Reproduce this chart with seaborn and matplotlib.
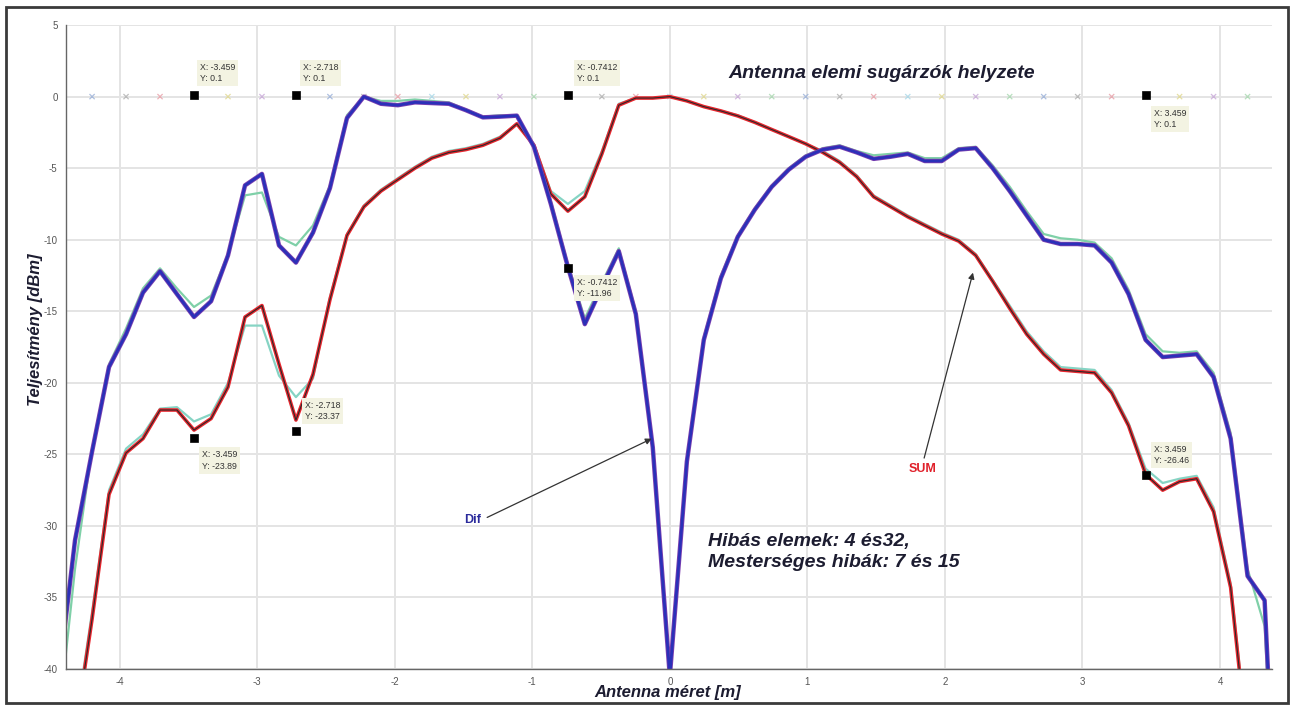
import matplotlib.pyplot as plt
import matplotlib.patches as mpatches
import seaborn as sns

# sample positions along the antenna [m] (half element spacing)
x_grid = [-4.447, -4.324, -4.200, -4.077, -3.953, -3.830, -3.706, -3.583, -3.459, -3.335,
          -3.212, -3.088, -2.965, -2.841, -2.718, -2.594, -2.471, -2.347, -2.224, -2.100,
          -1.977, -1.853, -1.730, -1.606, -1.482, -1.359, -1.235, -1.112, -0.988, -0.865,
          -0.741, -0.618, -0.494, -0.371, -0.247, -0.124, 0.000, 0.124, 0.247, 0.371,
          0.494, 0.618, 0.741, 0.865, 0.988, 1.112, 1.235, 1.359, 1.482, 1.606,
          1.730, 1.853, 1.977, 2.100, 2.224, 2.347, 2.471, 2.594, 2.718, 2.841,
          2.965, 3.088, 3.212, 3.335, 3.459, 3.583, 3.706, 3.830, 3.953, 4.077,
          4.200, 4.324, 4.447]

# Dif (difference pattern) [dBm]
dif_blue = [-41.0, -31.0, -24.8, -18.9, -16.6, -13.7, -12.2, -13.8, -15.4, -14.3,
            -11.1, -6.2, -5.4, -10.4, -11.6, -9.5, -6.4, -1.5, 0.0, -0.5,
            -0.6, -0.4, -0.45, -0.5, -0.95, -1.45, -1.4, -1.33, -3.5, -7.5,
            -11.9, -15.9, -13.3, -10.8, -15.2, -24.5, -40.5, -25.5, -17.0, -12.7,
            -9.8, -7.9, -6.3, -5.1, -4.2, -3.7, -3.5, -3.9, -4.35, -4.2,
            -4.0, -4.5, -4.5, -3.7, -3.6, -5.0, -6.6, -8.3, -10.0, -10.3,
            -10.3, -10.4, -11.6, -13.8, -17.0, -18.2, -18.1, -18.0, -19.6, -23.9,
            -33.5, -35.2, -60.0]
dif_alt = [-44.0, -33.0, -24.6, -18.7, -16.2, -13.4, -12.0, -13.4, -14.7, -13.9,
           -11.0, -6.9, -6.7, -9.8, -10.4, -9.0, -6.2, -1.3, 0.0, -0.3,
           -0.3, -0.2, -0.3, -0.4, -0.9, -1.4, -1.3, -1.3, -3.4, -7.3,
           -11.7, -15.5, -13.0, -10.6, -15.0, -24.3, -40.5, -25.3, -16.8, -12.5,
           -9.7, -7.8, -6.2, -5.0, -4.1, -3.6, -3.4, -3.8, -4.1, -4.0,
           -3.9, -4.3, -4.3, -3.6, -3.5, -4.8, -6.3, -8.0, -9.6, -9.9,
           -10.0, -10.2, -11.3, -13.5, -16.6, -17.8, -17.9, -17.8, -19.3, -23.5,
           -33.0, -37.0, -60.0]

# SUM (sum pattern) [dBm]
sum_red = [-60.0, -44.5, -36.5, -27.8, -24.9, -23.9, -21.9, -21.9, -23.3, -22.5,
           -20.3, -15.4, -14.6, -18.7, -22.6, -19.4, -14.2, -9.7, -7.7, -6.6,
           -5.8, -5.0, -4.3, -3.9, -3.7, -3.4, -2.9, -1.9, -3.4, -6.8,
           -8.0, -7.0, -4.0, -0.6, -0.1, -0.1, 0.0, -0.3, -0.7, -1.0,
           -1.35, -1.8, -2.3, -2.8, -3.3, -3.9, -4.6, -5.6, -7.0, -7.7,
           -8.4, -9.0, -9.6, -10.1, -11.1, -12.9, -14.8, -16.6, -18.0, -19.1,
           -19.2, -19.3, -20.7, -23.0, -26.4, -27.5, -26.9, -26.7, -29.0, -34.3,
           -45.5, -55.0, -60.0]
sum_alt = [-60.0, -44.0, -36.0, -27.5, -24.6, -23.6, -21.8, -21.7, -22.7, -22.2,
           -20.0, -16.0, -16.0, -19.5, -21.0, -19.7, -14.0, -9.6, -7.6, -6.5,
           -5.7, -4.9, -4.2, -3.8, -3.6, -3.3, -2.8, -1.9, -3.3, -6.6,
           -7.5, -6.6, -3.8, -0.5, -0.1, -0.1, 0.0, -0.3, -0.7, -1.0,
           -1.3, -1.8, -2.3, -2.8, -3.3, -3.8, -4.5, -5.5, -6.9, -7.6,
           -8.3, -8.9, -9.5, -10.0, -11.0, -12.8, -14.6, -16.4, -17.8, -18.9,
           -19.0, -19.1, -20.5, -22.8, -26.0, -27.0, -26.7, -26.5, -28.7, -34.0,
           -45.0, -55.0, -60.0]

# radiating element positions [m]
elem_x = [-4.200, -3.953, -3.706, -3.459, -3.212, -2.965, -2.718, -2.471, -2.224, -1.977,
          -1.730, -1.482, -1.235, -0.988, -0.741, -0.494, -0.247, 0.000, 0.247, 0.494,
          0.741, 0.988, 1.235, 1.482, 1.730, 1.977, 2.224, 2.471, 2.718, 2.965,
          3.212, 3.459, 3.706, 3.953, 4.200]
elem_y = [0.0] * len(elem_x)

# data tips
tip_x = [-3.459, -2.718, -0.7412, 3.459, -3.459, -2.718, -0.7412, 3.459]
tip_y = [0.1, 0.1, 0.1, 0.1, -23.89, -23.37, -11.96, -26.46]
tip_xlab = ['-3.459', '-2.718', '-0.7412', '3.459', '-3.459', '-2.718', '-0.7412', '3.459']
tip_ylab = ['0.1', '0.1', '0.1', '0.1', '-23.89', '-23.37', '-11.96', '-26.46']

x_ticks = [-4, -3, -2, -1, 0, 1, 2, 3, 4]
y_ticks = [5, 0, -5, -10, -15, -20, -25, -30, -35, -40]

sns.set_style('white')
plt.rcParams['font.family'] = ['Liberation Sans', 'DejaVu Sans']
plt.rcParams['axes.unicode_minus'] = False

fig = plt.figure(figsize=(12.93, 7.10), dpi=100)
ax = fig.add_axes([0.051, 0.0577, 0.933, 0.907])

# curves
sns.lineplot(x=x_grid, y=dif_alt, ax=ax, color='#7fd0a8', linewidth=1.6, sort=False, estimator=None)
sns.lineplot(x=x_grid, y=sum_alt, ax=ax, color='#86d4c4', linewidth=1.6, sort=False, estimator=None)
sns.lineplot(x=x_grid, y=sum_red, ax=ax, color='#e8262e', linewidth=2.6, sort=False, estimator=None)
sns.lineplot(x=x_grid, y=sum_red, ax=ax, color='#2a2a2a', linewidth=0.8, sort=False, estimator=None)
sns.lineplot(x=x_grid, y=dif_blue, ax=ax, color='#7b3fb0', linewidth=3.2, sort=False, estimator=None)
sns.lineplot(x=x_grid, y=dif_blue, ax=ax, color='#2b30b8', linewidth=2.0, sort=False, estimator=None)

# element positions
elem_cols = ['#9ab0d8', '#b0b0b0', '#e8a0a8', '#a8d8e8', '#e0d890', '#c8a8d8', '#a8d8b0']
sns.scatterplot(x=elem_x, y=elem_y, ax=ax, marker='x', s=14, linewidth=0.9,
                hue=[i % len(elem_cols) for i in range(len(elem_x))],
                palette=elem_cols, legend=False, alpha=0.8)

# data tips
sns.scatterplot(x=tip_x, y=tip_y, ax=ax, marker='s', s=36, color='black', edgecolor='black', zorder=6)
tip_off = [(6, 22), (7, 22), (9, 22), (8, -24), (8, -22), (9, 20), (9, -20), (8, 20)]
for i in range(len(tip_x)):
    ax.annotate('X: ' + tip_xlab[i] + '\nY: ' + tip_ylab[i], (tip_x[i], tip_y[i]),
                xytext=tip_off[i], textcoords='offset pixels', ha='left', va='center',
                fontsize=6.3, color='#333333', linespacing=1.3, zorder=7,
                bbox=dict(boxstyle='square,pad=0.35', fc='#f3f3e2', ec='none'))

# annotations
ax.annotate('Dif', xy=(-0.131, -23.9), xytext=(-1.37, -29.6), ha='right', va='center',
            fontsize=9, fontweight='bold', color='#2b2b9c',
            arrowprops=dict(arrowstyle='-|>', color='#333333', lw=0.9, mutation_scale=9,
                            relpos=(1, 0.5), shrinkA=2, shrinkB=0))
ax.annotate('SUM', xy=(2.204, -12.3), xytext=(1.84, -26.0), ha='center', va='center',
            fontsize=9, fontweight='bold', color='#e0202a',
            arrowprops=dict(arrowstyle='-|>', color='#333333', lw=0.9, mutation_scale=9,
                            relpos=(0.5, 1), shrinkA=1, shrinkB=0))

big = dict(fontweight='bold', style='italic', color='#1c1c30')
fig.text(728 / 1293, 1 - 73 / 710, 'Antenna elemi sugárzók helyzete', fontsize=14,
         ha='left', va='center', **big)
fig.text(708 / 1293, 1 - 552 / 710, 'Hibás elemek: 4 és32,\nMesterséges hibák: 7 és 15',
         fontsize=14, ha='left', va='center', linespacing=1.25, **big)
fig.text(36 / 1293, 1 - 330 / 710, 'Teljesítmény [dBm]', fontsize=12, rotation=90,
         ha='center', va='center', **big)
fig.text(668 / 1293, 1 - 693 / 710, 'Antenna méret [m]', fontsize=12,
         ha='center', va='center', **big)

# axes styling (MATLAB look)
ax.set_xlim(-4.39, 4.38)
ax.set_ylim(-40, 5)
ax.set_xticks(x_ticks)
ax.set_yticks(y_ticks)
ax.grid(True, color='#e4e4e4', linewidth=1.4)
ax.set_axisbelow(True)
for s in ['top', 'right']:
    ax.spines[s].set_visible(False)
for s in ['left', 'bottom']:
    ax.spines[s].set_color('#666666')
    ax.spines[s].set_linewidth(1.0)
ax.tick_params(direction='in', length=6, width=1, color='#666666',
               labelsize=7, labelcolor='#555555', pad=6)
ax.set_xlabel('')
ax.set_ylabel('')

# outer frame
fig.patches.append(mpatches.Rectangle((6 / 1293, 1 - 703 / 710), 1282 / 1293, 696 / 710,
                                      transform=fig.transFigure, fill=False,
                                      edgecolor='#3a3a3a', linewidth=2))

fig.savefig('out.png', dpi=100)
